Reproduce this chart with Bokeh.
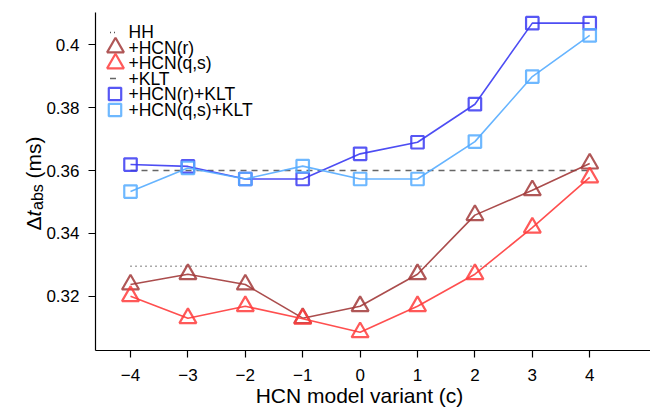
import math
from bokeh.plotting import figure
from bokeh.models import Range1d, FixedTicker, Label, Legend, LegendItem
from bokeh.embed import file_html
from bokeh.resources import INLINE

# ---- data ----
variants = [-4, -3, -2, -1, 0, 1, 2, 3, 4]
hh_level = 0.3295
klt_level = 0.3600
hcn_r = [0.3237, 0.3270, 0.3237, 0.3130, 0.3168, 0.3270, 0.3458, 0.3537, 0.3622]
hcn_qs = [0.3200, 0.3130, 0.3168, 0.3128, 0.3085, 0.3168, 0.3270, 0.3418, 0.3578]
hcn_r_klt = [0.3619, 0.3613, 0.3573, 0.3573, 0.3653, 0.3690, 0.3811, 0.4069, 0.4069]
hcn_qs_klt = [0.3533, 0.3608, 0.3573, 0.3614, 0.3573, 0.3573, 0.3692, 0.3899, 0.4030]

x_ticks = [-4, -3, -2, -1, 0, 1, 2, 3, 4]
x_tick_labels = ["\u22124", "\u22123", "\u22122", "\u22121", "0", "1", "2", "3", "4"]
y_ticks = [0.32, 0.34, 0.36, 0.38, 0.40]
y_tick_labels = ["0.32", "0.34", "0.36", "0.38", "0.4"]

labels = ["HH", "+HCN(r)", "+HCN(q,s)", "+KLT", "+HCN(r)+KLT", "+HCN(q,s)+KLT"]
x_title = "HCN model variant (c)"

FONT = "Liberation Sans"
C_R = "#a23a3a"
C_QS = "#ff3c3c"
C_RK = "#3a3af2"
C_QSK = "#55acff"
C_HH = "#555555"
C_KLT = "#666666"

W, H = 650, 414
# the frame fills the canvas; axes are pinned where the reference draws them
X0, X1 = -6.265, 5.059
Y0, Y1 = 0.28234, 0.41411
AX_X = -4.610            # data x of the left spine
AX_Y = 0.30271           # data y of the bottom spine
AX_TOP = 0.41029         # top end of the left spine

p = figure(width=W, height=H, output_backend="svg", toolbar_location=None,
           x_range=Range1d(X0, X1), y_range=Range1d(Y0, Y1),
           min_border_left=0, min_border_right=0, min_border_top=0,
           min_border_bottom=0)
p.outline_line_color = None
p.xgrid.visible = False
p.ygrid.visible = False
p.background_fill_color = "white"
p.border_fill_color = "white"

# reference lines
p.line([variants[0], variants[-1]], [hh_level, hh_level], line_color=C_HH,
       line_width=1.5, line_dash="1 4")
p.line([variants[0], variants[-1]], [klt_level, klt_level], line_color=C_KLT,
       line_width=1.5, line_dash="6 5")

def series(vals, color, marker, size):
    p.line(variants, vals, line_color=color, line_width=1.6, line_alpha=0.9)
    return p.scatter(variants, vals, marker=marker, size=size, fill_color=None,
                     line_color=color, line_width=2.2, line_alpha=0.85)

r1 = series(hcn_r, C_R, "triangle", 17)
r2 = series(hcn_qs, C_QS, "triangle", 17)
r3 = series(hcn_r_klt, C_RK, "square", 12.5)
r4 = series(hcn_qs_klt, C_QSK, "square", 12.5)

# legend-key proxies (a single NaN point: nothing drawn in the plot)
nan = float("nan")
px_hh = p.scatter(x=[nan], y=[nan], marker="dash", size=6, line_color=C_HH,
                  line_width=1.5, line_dash="1 3")
px_klt = p.scatter(x=[nan], y=[nan], marker="dash", size=6, line_color=C_KLT,
                   line_width=1.5)

def sx(px):
    return px

def sy(py):
    return H - py

# one glyph-only legend per row (keys), texts placed next to them
def legend_key(renderer, center_y, gw, gh, center_x):
    lg = Legend(items=[LegendItem(label="", renderers=[renderer])],
                location=(sx(center_x) - gw / 2, sy(center_y) - gh / 2))
    lg.margin = 0
    lg.padding = 0
    lg.spacing = 0
    lg.glyph_width = gw
    lg.glyph_height = gh
    lg.label_height = gh
    lg.label_width = 0
    lg.label_standoff = 0
    lg.label_text_font_size = "1px"
    lg.background_fill_alpha = 0
    lg.border_line_color = None
    p.add_layout(lg)

def legend_text(text, center_y, text_x=128):
    p.add_layout(Label(x=sx(text_x), y=sy(center_y), x_units="screen", y_units="screen",
                       text=text, text_font=FONT, text_font_size="17.5px",
                       text_align="left", text_baseline="middle", text_color="black"))

rows_y = [31.5, 47.0, 62.5, 78.0, 93.5, 109.0]
legend_key(px_hh, rows_y[0], 15, 24, 112)
legend_key(r1, rows_y[1], 42, 42, 115)
legend_key(r2, rows_y[2], 42, 42, 115)
legend_key(px_klt, rows_y[3], 15, 24, 112)
legend_key(r3, rows_y[4], 31, 31, 114)
legend_key(r4, rows_y[5], 31, 31, 114)
for t, yy in zip(labels, rows_y):
    legend_text(t, yy)

# axes
for ax in (p.xaxis[0], p.yaxis[0]):
    ax.axis_line_color = "black"
    ax.axis_line_width = 1.2
    ax.major_tick_line_color = "black"
    ax.major_tick_line_width = 1.2
    ax.major_tick_in = 0
    ax.major_tick_out = 7
    ax.minor_tick_line_color = None
    ax.major_label_text_font = FONT
    ax.major_label_text_font_size = "17px"
    ax.major_label_text_color = "black"

p.xaxis.ticker = FixedTicker(ticks=x_ticks)
p.xaxis.major_label_overrides = {t: l for t, l in zip(x_ticks, x_tick_labels)}
p.xaxis.major_label_standoff = 11
p.xaxis.fixed_location = AX_Y
p.xaxis.bounds = (AX_X, X1)

p.yaxis.ticker = FixedTicker(ticks=y_ticks)
p.yaxis.major_label_overrides = {t: l for t, l in zip(y_ticks, y_tick_labels)}
p.yaxis.major_label_standoff = 9
p.yaxis.fixed_location = AX_X
p.yaxis.bounds = (AX_Y, AX_TOP)

# x axis title
p.add_layout(Label(x=sx(359), y=sy(395), x_units="screen", y_units="screen",
                   text=x_title, text_font=FONT, text_font_size="21px",
                   text_align="center", text_baseline="alphabetic", text_color="black"))

# y axis title built from pieces (rotated)
def ylab(text, px, py, size, style="normal"):
    p.add_layout(Label(x=sx(px), y=sy(py), x_units="screen", y_units="screen",
                       text=text, angle=math.pi / 2, text_font=FONT,
                       text_font_size=size, text_font_style=style,
                       text_align="left", text_baseline="alphabetic",
                       text_color="black"))

ylab("\u0394", 33, 230, "21px")
ylab("t", 33, 216, "21px", "italic")
ylab("abs", 37, 209.5, "16px")
ylab("(ms)", 33, 178, "21px")

open("out.html", "w").write(file_html(p, INLINE))
